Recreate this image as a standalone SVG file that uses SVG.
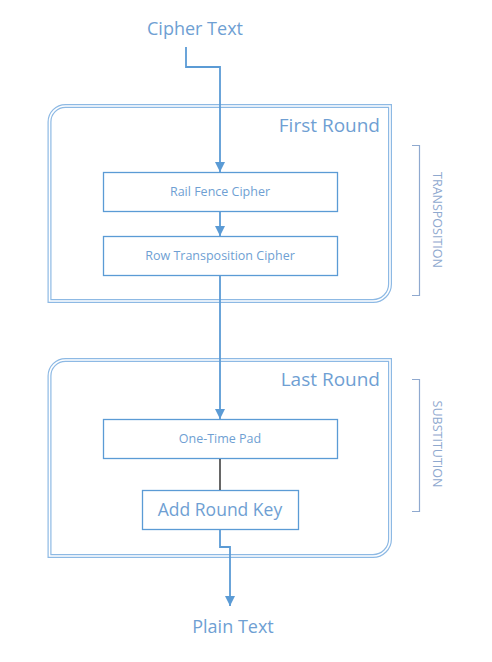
<svg xmlns="http://www.w3.org/2000/svg" width="492" height="662" viewBox="0 0 492 662">
<style>
.t{font-family:"Open Sans","Liberation Sans",sans-serif;fill:#6f9fd3;text-anchor:middle}
.box{fill:#fff;stroke:#5b9bd5;stroke-width:1.3}
.rnd{fill:none;stroke:#8db9e4;stroke-width:4}
.rndi{fill:none;stroke:#fff;stroke-width:1.6}
.ln{fill:none;stroke:#5b9bd5;stroke-width:1.8}
.br{fill:none;stroke:#8fa9cf;stroke-width:1.2}
</style>
<defs>
<marker id="ah" viewBox="0 0 10 10" refX="10" refY="5" markerWidth="10" markerHeight="10" markerUnits="userSpaceOnUse" orient="auto">
<path d="M0,0 L10,5 L0,10 Z" fill="#5b9bd5"/>
</marker>
</defs>
<rect width="492" height="662" fill="#fff"/>
<g id="first-round">
<path class="rnd" d="M49.5,122 A16,16 0 0 1 65.5,106 H390 V284 A17,17 0 0 1 373,301 H49.5 Z"/>
<path class="rndi" d="M49.5,122 A16,16 0 0 1 65.5,106 H390 V284 A17,17 0 0 1 373,301 H49.5 Z"/>
<text class="t" x="380" y="132" font-size="19" style="text-anchor:end">First Round</text>
</g>
<g id="last-round">
<path class="rnd" d="M49.5,376 A16,16 0 0 1 65.5,360 H390 V539 A17,17 0 0 1 373,556 H49.5 Z"/>
<path class="rndi" d="M49.5,376 A16,16 0 0 1 65.5,360 H390 V539 A17,17 0 0 1 373,556 H49.5 Z"/>
<text class="t" x="380" y="386" font-size="19" style="text-anchor:end">Last Round</text>
</g>
<g id="cipher-text"><text class="t" x="195" y="35" font-size="18">Cipher Text</text></g>
<g id="plain-text"><text class="t" x="233" y="633" font-size="18">Plain Text</text></g>
<g id="rail-fence">
<rect class="box" x="103.5" y="172.5" width="234" height="39"/>
<text class="t" x="220" y="196" font-size="12.5">Rail Fence Cipher</text>
</g>
<g id="row-transposition">
<rect class="box" x="103.5" y="236.5" width="234" height="39"/>
<text class="t" x="220" y="260" font-size="12.5">Row Transposition Cipher</text>
</g>
<g id="one-time-pad">
<rect class="box" x="103.5" y="419.5" width="234" height="39"/>
<text class="t" x="220" y="443" font-size="12.5">One-Time Pad</text>
</g>
<g id="add-round-key">
<rect class="box" x="142.5" y="490.5" width="156" height="39"/>
<text class="t" x="220" y="516" font-size="17.5">Add Round Key</text>
</g>
<g id="transposition-bracket">
<path class="br" d="M412,145.5 H419.5 V295.5 H412"/>
<text class="t" x="0" y="0" font-size="12.5" style="fill:#8fa9cf" transform="translate(432.5,220) rotate(90)">TRANSPOSITION</text>
</g>
<g id="substitution-bracket">
<path class="br" d="M412,379.5 H419.5 V511.5 H412"/>
<text class="t" x="0" y="0" font-size="12.5" style="fill:#8fa9cf" transform="translate(432.5,444) rotate(90)">SUBSTITUTION</text>
</g>
<g id="connectors">
<path class="ln" d="M186,47 V67 H220 V172" marker-end="url(#ah)"/>
<path class="ln" d="M220,212 V236" marker-end="url(#ah)"/>
<path class="ln" d="M220,276 V419" marker-end="url(#ah)"/>
<path d="M220,459 V490" stroke="#000" stroke-width="1.2" fill="none"/>
<path class="ln" d="M220,530 V547 H230 V606" marker-end="url(#ah)"/>
</g>
</svg>
